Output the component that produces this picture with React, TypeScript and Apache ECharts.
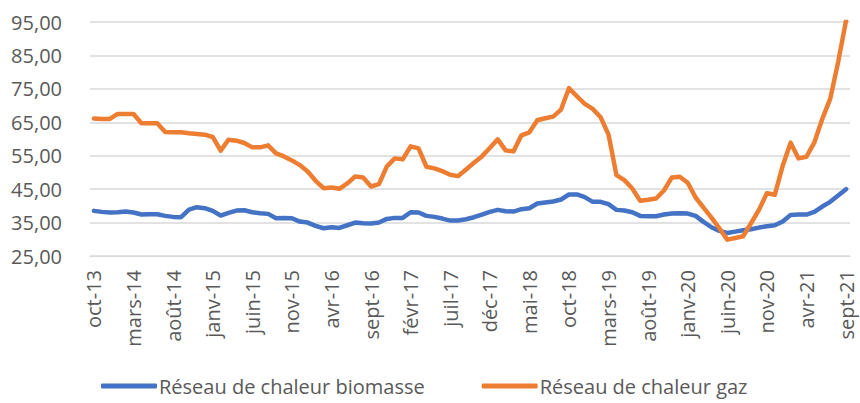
import React, { useEffect, useRef } from "react";
import * as echarts from "echarts";

const monthNames = ["janv", "févr", "mars", "avr", "mai", "juin", "juil", "août", "sept", "oct", "nov", "déc"];
const startYear = 2013;
const startMonth = 9; // oct
const monthCount = 96;

const categories: string[] = [];
for (let k = 0; k < monthCount; k++) {
  const m = (startMonth + k) % 12;
  const y = startYear + Math.floor((startMonth + k) / 12);
  categories.push(`${monthNames[m]}-${String(y).slice(2)}`);
}

const biomasse = [
  38.5, 38.2, 38.0, 38.1, 38.3, 38.0, 37.4, 37.5, 37.5, 37.0, 36.7, 36.6,
  38.9, 39.6, 39.3, 38.5, 37.1, 37.9, 38.6, 38.7, 38.1, 37.8, 37.6, 36.3,
  36.4, 36.3, 35.3, 35.0, 34.0, 33.3, 33.6, 33.4, 34.2, 35.0, 34.8, 34.7,
  35.0, 36.1, 36.4, 36.4, 38.1, 38.0, 37.0, 36.7, 36.2, 35.6, 35.6, 36.0,
  36.6, 37.4, 38.2, 38.8, 38.4, 38.3, 39.0, 39.3, 40.7, 41.0, 41.3, 41.9,
  43.4, 43.4, 42.6, 41.2, 41.2, 40.5, 38.8, 38.6, 38.1, 37.0, 36.9, 36.9,
  37.4, 37.7, 37.8, 37.7, 37.0, 35.2, 33.6, 32.5, 31.9, 32.3, 32.7, 33.0,
  33.5, 33.9, 34.2, 35.3, 37.3, 37.4, 37.4, 38.2, 39.8, 41.2, 43.1, 45.0,
];

const gaz = [
  66.1, 66.0, 66.0, 67.5, 67.5, 67.5, 64.7, 64.7, 64.7, 62.1, 62.0, 62.0,
  61.7, 61.5, 61.3, 60.6, 56.5, 59.8, 59.5, 58.8, 57.5, 57.5, 58.1, 55.7,
  54.8, 53.6, 52.2, 50.3, 47.5, 45.3, 45.5, 45.1, 46.7, 48.8, 48.5, 45.8,
  46.5, 51.8, 54.2, 53.9, 57.8, 57.2, 51.7, 51.2, 50.4, 49.3, 48.9, 50.9,
  52.9, 54.8, 57.3, 59.9, 56.6, 56.3, 61.1, 62.0, 65.6, 66.2, 66.7, 68.8,
  75.2, 72.8, 70.5, 69.0, 66.5, 61.3, 49.2, 47.7, 45.2, 41.5, 41.8, 42.2,
  44.6, 48.5, 48.7, 46.9, 42.5, 39.5, 36.5, 33.3, 29.9, 30.4, 30.9, 34.8,
  38.8, 43.8, 43.3, 52.0, 58.9, 54.2, 54.7, 59.0, 66.0, 72.0, 83.0, 95.4,
];

const seriesNames = ["Réseau de chaleur biomasse", "Réseau de chaleur gaz"];
const colors = ["#4472C4", "#ED7D31"];
const yMin = 25;
const yMax = 95;
const yStep = 10;

const FONT = "'Open Sans', 'Noto Sans', sans-serif";
const TEXT = "#595959";

export default function App() {
  const ref = useRef<HTMLDivElement>(null);
  useEffect(() => {
    if (!ref.current) return;
    const chart = echarts.init(ref.current, undefined, { renderer: "svg" });
    chart.setOption({
      animation: false,
      backgroundColor: "#ffffff",
      textStyle: { fontFamily: FONT },
      grid: { left: 90, right: 10, top: 22, bottom: 147, containLabel: false },
      legend: {
        top: 376,
        left: 101,
        padding: 0,
        itemWidth: 56,
        itemHeight: 5,
        itemGap: 57,
        icon: "roundRect",
        textStyle: { color: TEXT, fontSize: 20, fontFamily: FONT, padding: [0, 0, 0, -3] },
        data: seriesNames,
      },
      xAxis: {
        type: "category",
        data: categories,
        boundaryGap: true,
        axisLine: { show: true, lineStyle: { color: "#d9d9d9", width: 1 } },
        axisTick: { show: false },
        axisLabel: {
          interval: 4,
          rotate: 90,
          margin: 14,
          color: TEXT,
          fontSize: 20,
          fontFamily: FONT,
        },
      },
      yAxis: {
        type: "value",
        min: yMin,
        max: yMax,
        interval: yStep,
        axisLine: { show: false },
        axisTick: { show: false },
        splitLine: { lineStyle: { color: "#d9d9d9", width: 1.5 } },
        axisLabel: {
          margin: 28,
          color: TEXT,
          fontSize: 20,
          fontFamily: FONT,
          formatter: (v: number) => v.toFixed(2).replace(".", ","),
        },
      },
      series: [
        {
          name: seriesNames[0],
          type: "line",
          data: biomasse,
          showSymbol: false,
          symbol: "none",
          lineStyle: { color: colors[0], width: 4.5, join: "round", cap: "round" },
          itemStyle: { color: colors[0] },
        },
        {
          name: seriesNames[1],
          type: "line",
          data: gaz,
          showSymbol: false,
          symbol: "none",
          lineStyle: { color: colors[1], width: 4.5, join: "round", cap: "round" },
          itemStyle: { color: colors[1] },
        },
      ],
    });
    return () => chart.dispose();
  }, []);
  return (
    <div
      ref={ref}
      style={{ position: "fixed", left: 0, top: 0, width: 860, height: 403, background: "#fff" }}
    />
  );
}
